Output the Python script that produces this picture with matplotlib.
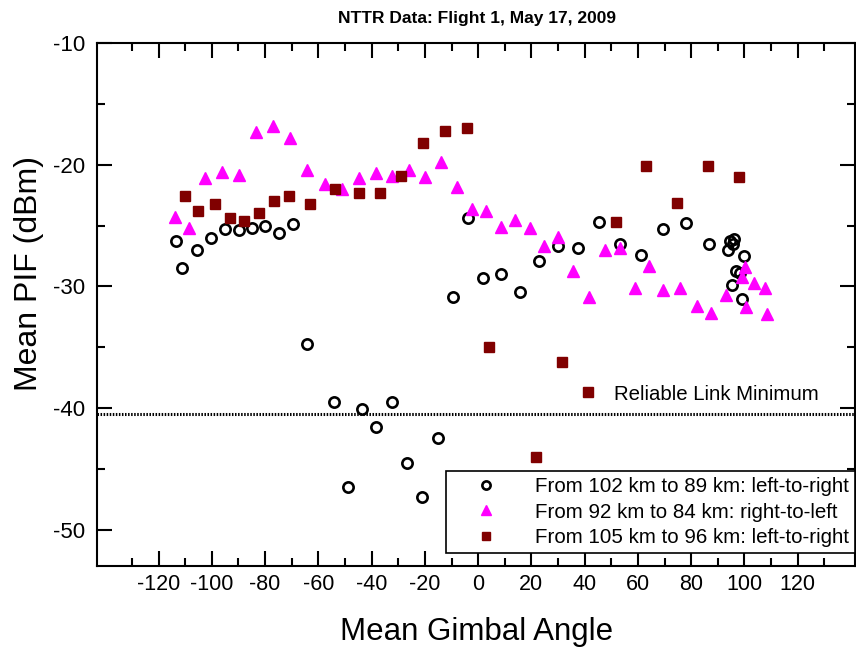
import matplotlib
matplotlib.use("Agg")
import matplotlib.pyplot as plt
from matplotlib.lines import Line2D

plt.rcParams['font.family'] = ['Liberation Sans', 'DejaVu Sans']
plt.rcParams['axes.unicode_minus'] = False

# From 102 km to 89 km: left-to-right
pass1_angle = [-113.4, -111.2, -105.7, -100.3, -95.2, -89.7, -85.0, -80.1, -74.8, -69.6,
               -64.3, -54.0, -48.7, -43.7, -38.2, -32.3, -26.8, -20.9, -15.2, -9.5,
               -3.8, 1.7, 8.6, 15.7, 22.7, 29.9, 37.4, 45.3, 53.2, 61.2,
               69.3, 78.0, 86.6, 93.8, 94.5, 96.0, 95.7, 99.8, 96.9, 98.3,
               95.2, 98.9]
pass1_pif = [-26.3, -28.5, -27.0, -26.0, -25.3, -25.4, -25.2, -25.0, -25.6, -24.9,
             -34.7, -39.5, -46.5, -40.1, -41.6, -39.5, -44.5, -47.3, -42.5, -30.9,
             -24.4, -29.3, -29.0, -30.5, -27.9, -26.7, -26.8, -24.7, -26.5, -27.4,
             -25.3, -24.8, -26.5, -27.0, -26.3, -26.1, -26.5, -27.5, -28.7, -28.9,
             -29.9, -31.0]

# From 92 km to 84 km: right-to-left
pass2_angle = [-114.0, -108.6, -102.5, -96.2, -89.8, -83.5, -77.1, -70.6, -64.1, -57.6,
               -51.1, -44.8, -38.4, -32.2, -25.8, -19.9, -13.8, -8.0, -2.3, 3.0,
               8.5, 13.8, 19.4, 24.6, 30.1, 35.7, 41.6, 47.5, 53.4, 59.0,
               64.0, 69.5, 75.8, 82.0, 87.3, 93.0, 100.1, 98.9, 103.5, 107.7,
               100.5, 108.3]
pass2_pif = [-24.3, -25.2, -21.1, -20.6, -20.8, -17.3, -16.8, -17.8, -20.4, -21.6,
             -22.0, -21.1, -20.7, -20.9, -20.4, -21.0, -19.8, -21.8, -23.6, -23.8,
             -25.1, -24.5, -25.2, -26.7, -25.9, -28.7, -30.9, -27.0, -26.8, -30.1,
             -28.3, -30.3, -30.1, -31.6, -32.2, -30.7, -28.4, -29.2, -29.7, -30.1,
             -31.7, -32.3]

# From 105 km to 96 km: left-to-right
pass3_angle = [-110.0, -105.1, -99.0, -93.2, -88.0, -82.2, -76.8, -71.0, -63.2, -53.8,
               -44.8, -36.8, -28.9, -20.8, -12.4, -4.1, 4.0, 21.7, 31.4, 51.9,
               62.9, 74.5, 86.4, 97.8]
pass3_pif = [-22.6, -23.8, -23.2, -24.4, -24.6, -24.0, -23.0, -22.6, -23.2, -22.0,
             -22.3, -22.3, -20.9, -18.2, -17.2, -17.0, -35.0, -44.0, -36.2, -24.7,
             -20.1, -23.1, -20.1, -21.0]

link_minimum = -40.5

labels = ['From 102 km to 89 km: left-to-right',
          'From 92 km to 84 km: right-to-left',
          'From 105 km to 96 km: left-to-right']

fig = plt.figure(figsize=(8.56, 6.49), dpi=100)
ax = fig.add_axes([0.1137, 0.1279, 0.8851, 0.8054])

ax.plot(pass1_angle, pass1_pif, linestyle='none', marker='o', ms=7.4,
        mfc='none', mec='black', mew=1.9, label=labels[0], zorder=3)
ax.plot(pass2_angle, pass2_pif, linestyle='none', marker='^', ms=8.6,
        color='#ff00ff', label=labels[1], zorder=3)
ax.plot(pass3_angle, pass3_pif, linestyle='none', marker='s', ms=6.7,
        color='#800000', label=labels[2], zorder=3)

ax.axhline(link_minimum, color='black', lw=2.2, linestyle=(0, (0.5, 0.5)), zorder=2)

ax.set_xlim(-143, 141.5)
ax.set_ylim(-53, -10)
ax.set_xticks(range(-120, 121, 20))
ax.set_xticks(range(-130, 131, 10), minor=True)
ax.set_yticks(range(-50, -9, 10))
ax.set_yticks(range(-45, -14, 10), minor=True)

for side in ax.spines.values():
    side.set_linewidth(1.5)
ax.tick_params(which='both', direction='in', top=True, right=True, width=1.5)
ax.tick_params(which='major', length=11)
ax.tick_params(which='minor', length=5.8)
ax.tick_params(axis='y', labelsize=16, pad=9)
ax.tick_params(axis='x', labelsize=15.5, pad=6)

ax.set_xlabel('Mean Gimbal Angle', fontsize=22.5)
ax.xaxis.set_label_coords(0.5, -0.097)
ax.set_ylabel('Mean PIF (dBm)', fontsize=23)
ax.yaxis.set_label_coords(-0.07, 0.56)

fig.text(0.557, 0.972, 'NTTR Data: Flight 1, May 17, 2009', ha='center', va='center',
         fontsize=12.5, fontweight='bold')

leg = ax.legend(loc='lower right', bbox_to_anchor=(1.0, 0.025), borderaxespad=0,
                fontsize=14.8, markerscale=0.8, handlelength=3.3, handletextpad=0.72,
                borderpad=0.3, labelspacing=0.3, fancybox=False, framealpha=1,
                edgecolor='black')
leg.get_frame().set_linewidth(1.2)
ax.add_artist(leg)

# label for the reliable-link threshold line
note = Line2D([], [], linestyle='none', marker='s', ms=6.7, color='#800000')
ax.legend([note], ['Reliable Link Minimum'], loc='center left',
          bbox_to_anchor=(0.6348, 0.329), borderaxespad=0, borderpad=0,
          fontsize=14.7, handlelength=1, handletextpad=0.74, frameon=False)

fig.savefig('out.png', dpi=100)
